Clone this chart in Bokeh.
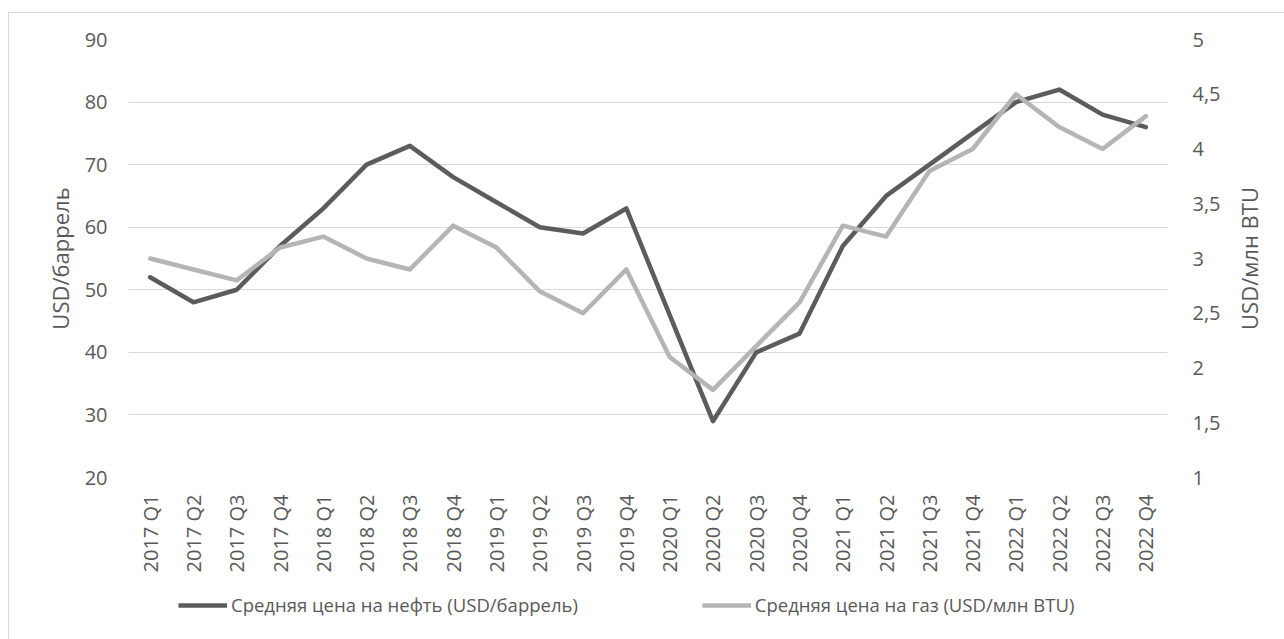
import numpy as np
from bokeh.plotting import figure
from bokeh.models import (Range1d, LinearAxis, FixedTicker, Legend, LegendItem,
                          FactorRange, Title, Row, Column)
from bokeh.embed import file_html
from bokeh.resources import INLINE

quarters = ["2017 Q1", "2017 Q2", "2017 Q3", "2017 Q4",
            "2018 Q1", "2018 Q2", "2018 Q3", "2018 Q4",
            "2019 Q1", "2019 Q2", "2019 Q3", "2019 Q4",
            "2020 Q1", "2020 Q2", "2020 Q3", "2020 Q4",
            "2021 Q1", "2021 Q2", "2021 Q3", "2021 Q4",
            "2022 Q1", "2022 Q2", "2022 Q3", "2022 Q4"]
oil = [52, 48, 50, 57, 63, 70, 73, 68, 64, 60, 59, 63,
       46, 29, 40, 43, 57, 65, 70, 75, 80, 82, 78, 76]
gas = [3.0, 2.9, 2.8, 3.1, 3.2, 3.0, 2.9, 3.3, 3.1, 2.7, 2.5, 2.9,
       2.1, 1.8, 2.2, 2.6, 3.3, 3.2, 3.8, 4.0, 4.5, 4.2, 4.0, 4.3]
oil_ticks = [20, 30, 40, 50, 60, 70, 80, 90]
gas_ticks = [1, 1.5, 2, 2.5, 3, 3.5, 4, 4.5, 5]
gas_tick_labels = ["1", "1,5", "2", "2,5", "3", "3,5", "4", "4,5", "5"]
oil_name = "Средняя цена на нефть (USD/баррель)"
gas_name = "Средняя цена на газ (USD/млн BTU)"
left_label = "USD/баррель"
right_label = "USD/млн BTU"

FONT = "Open Sans"
TICK_FS = "20px"
TITLE_FS = "22px"
LEG_FS = "18.5px"
TXT = "#595959"
OIL_C = "#5c5c5c"
GAS_C = "#b5b5b5"
LW = 4.5

TOP, BOT = 26, 103

# ---- main chart ----
p = figure(width=1222, height=567, x_range=FactorRange(*quarters),
           y_range=Range1d(20, 90), output_backend="svg",
           toolbar_location=None, min_border_left=119, min_border_top=TOP,
           min_border_right=64, min_border_bottom=BOT)
p.extra_y_ranges = {"gas": Range1d(1, 5)}
p.outline_line_color = None
p.xgrid.grid_line_color = None
p.ygrid.grid_line_color = "#d9d9d9"
p.ygrid.grid_line_width = 1
p.ygrid.ticker = FixedTicker(ticks=oil_ticks)

r_oil = p.line(quarters, oil, line_color=OIL_C, line_width=LW,
               line_join="round", line_cap="round")
r_gas = p.line(quarters, gas, line_color=GAS_C, line_width=LW,
               line_join="round", line_cap="round", y_range_name="gas")

def style_axis(ax):
    ax.axis_line_color = None
    ax.major_tick_line_color = None
    ax.minor_tick_line_color = None
    ax.major_tick_out = 0
    ax.major_tick_in = 0
    ax.major_label_text_font = FONT
    ax.major_label_text_font_size = TICK_FS
    ax.major_label_text_color = TXT
    ax.axis_label_text_font = FONT
    ax.axis_label_text_font_size = TITLE_FS
    ax.axis_label_text_font_style = "normal"
    ax.axis_label_text_color = TXT

ly = p.yaxis[0]
style_axis(ly)
ly.ticker = FixedTicker(ticks=oil_ticks)
ly.major_label_standoff = 21
ly.axis_label = left_label
ly.axis_label_standoff = 7

ry = LinearAxis(y_range_name="gas", ticker=FixedTicker(ticks=gas_ticks),
                major_label_overrides={t: l for t, l in zip(gas_ticks, gas_tick_labels)})
style_axis(ry)
ry.major_label_standoff = 25
p.add_layout(ry, "right")

xa = p.xaxis[0]
style_axis(xa)
xa.major_label_orientation = np.pi / 2
xa.major_label_standoff = 17

# ---- right axis title (reads bottom-to-top) ----
q = figure(width=53, height=567, output_backend="svg", toolbar_location=None,
           x_range=Range1d(0, 1), y_range=Range1d(0, 1),
           min_border_left=0, min_border_right=0,
           min_border_top=TOP, min_border_bottom=BOT)
q.axis.visible = False
q.grid.visible = False
q.outline_line_color = None
q.title = None
q.add_layout(Title(text=right_label, align="center", text_font=FONT,
                   text_font_size=TITLE_FS, text_font_style="normal",
                   text_color=TXT, offset=0, standoff=0), "left")

# ---- legend strip (series drawn off-range, only their legend swatches show) ----
lg = figure(width=1275, height=59, output_backend="svg", toolbar_location=None,
            x_range=FactorRange(*quarters), y_range=Range1d(-1, 0),
            min_border_left=0, min_border_right=0,
            min_border_top=0, min_border_bottom=0)
lg.axis.visible = False
lg.grid.visible = False
lg.outline_line_color = None
k_oil = lg.line(quarters, oil, line_color=OIL_C, line_width=LW, line_cap="butt")
k_gas = lg.line(quarters, gas, line_color=GAS_C, line_width=LW, line_cap="butt")
legend = Legend(items=[LegendItem(label=oil_name, renderers=[k_oil]),
                       LegendItem(label=gas_name, renderers=[k_gas])],
                orientation="horizontal", location=(169, 22),
                padding=0, margin=0, spacing=124, glyph_width=49,
                glyph_height=20, label_height=20, label_standoff=4,
                label_text_font=FONT, label_text_font_size=LEG_FS,
                label_text_color=TXT, border_line_color=None,
                background_fill_alpha=0)
lg.add_layout(legend, "center")

page = Column(children=[Row(children=[p, q]), lg],
              styles={"margin-left": "8px", "margin-top": "12px",
                      "border-left": "1px solid #d9d9d9",
                      "border-top": "1px solid #d9d9d9"})

open("out.html", "w").write(file_html(page, INLINE))
